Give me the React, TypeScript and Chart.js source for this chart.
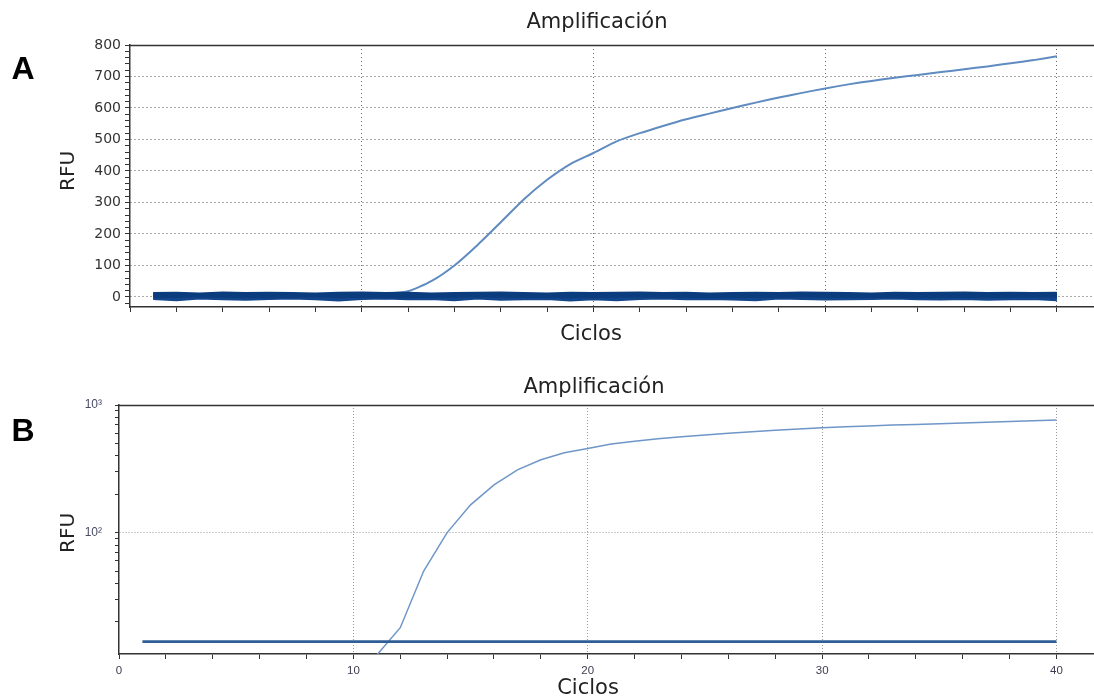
import React, { useEffect, useRef } from "react";
import { Chart, registerables } from "chart.js";

Chart.register(...registerables);

// ---------- data ----------
const cycles = [1, 2, 3, 4, 5, 6, 7, 8, 9, 10, 11, 12, 13, 14, 15, 16, 17, 18, 19, 20, 21, 22, 23, 24, 25, 26, 27, 28, 29, 30, 31, 32, 33, 34, 35, 36, 37, 38, 39, 40];

const amplification = [3, 4, 3, 5, 4, 3, 4, 5, 6, 7, 11, 18, 50, 100, 165, 237, 310, 372, 422, 457, 494, 520, 543, 564, 582, 600, 617, 633, 648, 662, 675, 686, 696, 705, 714, 723, 732, 742, 752, 764];

const baseline1 = [3, 2, 4, 3, 2, 1, 3, 4, 2, 3, 2, 1, 2, 3, 4, 3, 2, 3, 1, 2, 3, 4, 3, 2, 1, 2, 3, 2, 4, 3, 2, 3, 2, 1, 2, 3, 2, 3, 4, 3];
const baseline2 = [-4, -8, -3, -5, -7, -4, -3, -5, -9, -4, -3, -5, -4, -8, -3, -7, -5, -4, -9, -5, -8, -4, -3, -5, -4, -6, -8, -3, -4, -6, -5, -4, -3, -5, -6, -4, -7, -5, -4, -8];
const baseline3 = [10, 11, 9, 12, 10, 11, 10, 9, 11, 12, 10, 11, 9, 10, 11, 12, 10, 9, 11, 10, 11, 12, 10, 11, 9, 10, 11, 10, 12, 11, 10, 9, 11, 10, 11, 12, 10, 11, 10, 11];
const baseline4 = [0, -1, 1, 0, -3, 0, 1, -1, 0, 1, -2, 0, -1, 1, 0, -1, 0, 1, -2, 0, -1, 0, 1, 0, -1, -2, 0, 1, 0, -1, 0, 1, -1, 0, -2, 0, 1, 0, -1, 0];
const baseline5 = [6, 5, 7, 6, 4, 6, 7, 5, 6, 7, 5, 6, 4, 6, 7, 5, 6, 5, 7, 6, 5, 7, 6, 5, 6, 4, 6, 7, 5, 6, 7, 5, 6, 6, 5, 7, 6, 5, 6, 6];
const baselineLog = [14, 14, 14, 14, 14, 14, 14, 14, 14, 14, 14, 14, 14, 14, 14, 14, 14, 14, 14, 14, 14, 14, 14, 14, 14, 14, 14, 14, 14, 14, 14, 14, 14, 14, 14, 14, 14, 14, 14, 14];

const xTicks = [0, 2, 4, 6, 8, 10, 12, 14, 16, 18, 20, 22, 24, 26, 28, 30, 32, 34, 36, 38, 40];
const xLabelled = [0, 10, 20, 30, 40];
const yTicksA = [-20, 0, 20, 40, 60, 80, 100, 120, 140, 160, 180, 200, 220, 240, 260, 280, 300, 320, 340, 360, 380, 400, 420, 440, 460, 480, 500, 520, 540, 560, 580, 600, 620, 640, 660, 680, 700, 720, 740, 760, 780, 800];
const yLabelsA = [0, 100, 200, 300, 400, 500, 600, 700, 800];
const yTicksB = [20, 30, 40, 50, 60, 70, 80, 90, 100, 200, 300, 400, 500, 600, 700, 800, 900, 1000];
const yLabelsBValues = [100, 1000];
const yLabelsBText = ["10\u00b2", "10\u00b3"];

const pts = (vals: number[]) => cycles.map((c, i) => ({ x: c, y: vals[i] }));

type Txt = { text: string; x: number; y: number; font: string; color: string; rotate?: number };

const overlayPlugin = (id: string, items: Txt[]) => ({
  id,
  afterDraw(chart: any) {
    const ctx = chart.ctx as CanvasRenderingContext2D;
    const a = chart.chartArea;
    ctx.save();
    ctx.strokeStyle = "#333";
    ctx.lineWidth = 1.5;
    ctx.beginPath();
    ctx.moveTo(a.left, Math.round(a.top) + 0.5);
    ctx.lineTo(a.right, Math.round(a.top) + 0.5);
    ctx.stroke();
    ctx.restore();
    items.forEach((t) => {
      ctx.save();
      ctx.translate(t.x, t.y);
      if (t.rotate) ctx.rotate(t.rotate);
      ctx.font = t.font;
      ctx.fillStyle = t.color;
      ctx.textAlign = "center";
      ctx.textBaseline = "middle";
      ctx.fillText(t.text, 0, 0);
      ctx.restore();
    });
  },
});

const DEJA = "'DejaVu Sans', sans-serif";
const LIB = "'Liberation Sans', Arial, sans-serif";

const xScale = (labels: boolean, height: number, gridColor: string, dash: number[], tickFont: any) => ({
  type: "linear" as const,
  min: 0,
  max: 41.6,
  afterBuildTicks: (s: any) => {
    s.ticks = xTicks.map((v) => ({ value: v }));
  },
  afterFit: (s: any) => {
    s.height = height;
  },
  ticks: {
    autoSkip: false,
    maxRotation: 0,
    padding: 5,
    font: tickFont,
    color: "#3c3c50",
    callback: (v: any) => (labels && xLabelled.includes(Number(v)) ? String(v) : ""),
  },
  grid: {
    color: (c: any) => (c.tick && c.tick.value % 10 === 0 && c.tick.value !== 0 ? gridColor : "rgba(0,0,0,0)"),
    tickColor: "#333",
    tickLength: 5,
    lineWidth: 1,
  },
  border: { display: true, color: "#333", width: 1.5, dash },
});

function ChartA() {
  const ref = useRef<HTMLCanvasElement>(null);
  useEffect(() => {
    const base = { borderWidth: 3.4, pointRadius: 0, tension: 0, fill: false };
    const chart = new Chart(ref.current as HTMLCanvasElement, {
      type: "line",
      data: {
        datasets: [
          { ...base, data: pts(baseline1), borderColor: "#0b3c7d" },
          { ...base, data: pts(baseline2), borderColor: "#12458a" },
          { ...base, data: pts(baseline3), borderColor: "#0b3c7d" },
          { ...base, data: pts(baseline4), borderColor: "#164d92" },
          { ...base, data: pts(baseline5), borderColor: "#0e4084" },
          { borderWidth: 2, pointRadius: 0, tension: 0.2, fill: false, data: pts(amplification), borderColor: "#5f8bc0" },
        ],
      },
      options: {
        animation: false,
        responsive: false,
        layout: { padding: { top: 45, left: 0, right: 0, bottom: 0 } },
        plugins: { legend: { display: false }, title: { display: false }, tooltip: { enabled: false } },
        scales: {
          x: xScale(false, 38, "#666", [1, 3], { family: DEJA, size: 12 }),
          y: {
            type: "linear",
            min: -32,
            max: 800,
            afterBuildTicks: (s: any) => {
              s.ticks = yTicksA.map((v) => ({ value: v }));
            },
            afterFit: (s: any) => {
              s.width = 130;
            },
            ticks: {
              autoSkip: false,
              padding: 4,
              font: { family: DEJA, size: 14 },
              color: "#333",
              callback: (v: any) => (yLabelsA.includes(Number(v)) ? String(v) : ""),
            },
            grid: {
              color: (c: any) =>
                c.tick && yLabelsA.includes(c.tick.value) && c.tick.value !== 800 ? "#555" : "rgba(0,0,0,0)",
              tickColor: "#333",
              tickLength: 5,
              lineWidth: 1,
            },
            border: { display: true, color: "#333", width: 1.5, dash: [1, 3] },
          },
        },
      } as any,
      plugins: [
        overlayPlugin("overlayA", [
          { text: "A", x: 23, y: 70, font: `bold 32px ${LIB}`, color: "#000" },
          { text: "Amplificación", x: 597, y: 23, font: `21px ${DEJA}`, color: "#222" },
          { text: "RFU", x: 69, y: 171, font: `20px ${DEJA}`, color: "#222", rotate: -Math.PI / 2 },
          { text: "Ciclos", x: 591, y: 335, font: `21px ${DEJA}`, color: "#222" },
        ]),
      ],
    });
    return () => chart.destroy();
  }, []);
  return <canvas ref={ref} width={1094} height={345} style={{ position: "absolute", left: 0, top: 0 }} />;
}

function ChartB() {
  const ref = useRef<HTMLCanvasElement>(null);
  useEffect(() => {
    const chart = new Chart(ref.current as HTMLCanvasElement, {
      type: "line",
      data: {
        datasets: [
          { borderWidth: 2.6, pointRadius: 0, tension: 0, fill: false, data: pts(baselineLog), borderColor: "#2f5e96" },
          { borderWidth: 1.5, pointRadius: 0, tension: 0, fill: false, data: pts(amplification), borderColor: "#6f96c8" },
        ],
      },
      options: {
        animation: false,
        responsive: false,
        layout: { padding: { top: 60, left: 0, right: 0, bottom: 0 } },
        plugins: { legend: { display: false }, title: { display: false }, tooltip: { enabled: false } },
        scales: {
          x: xScale(true, 45, "#999", [1, 2], { family: LIB, size: 11.5 }),
          y: {
            type: "logarithmic",
            min: 11.2,
            max: 1000,
            afterBuildTicks: (s: any) => {
              s.ticks = yTicksB.map((v) => ({ value: v }));
            },
            afterFit: (s: any) => {
              s.width = 119;
            },
            ticks: {
              autoSkip: false,
              padding: 13,
              font: { family: LIB, size: 12 },
              color: "#4a4a66",
              callback: (v: any) => {
                const i = yLabelsBValues.indexOf(Number(v));
                return i >= 0 ? yLabelsBText[i] : "";
              },
            },
            grid: {
              color: (c: any) => (c.tick && c.tick.value === 100 ? "#999" : "rgba(0,0,0,0)"),
              tickColor: "#333",
              tickLength: 4,
              lineWidth: 1,
            },
            border: { display: true, color: "#333", width: 1.5, dash: [1, 2] },
          },
        },
      } as any,
      plugins: [
        overlayPlugin("overlayB", [
          { text: "B", x: 23, y: 87, font: `bold 32px ${LIB}`, color: "#000" },
          { text: "Amplificación", x: 594, y: 43, font: `21px ${DEJA}`, color: "#222" },
          { text: "RFU", x: 69, y: 188, font: `20px ${DEJA}`, color: "#222", rotate: -Math.PI / 2 },
          { text: "Ciclos", x: 588, y: 344, font: `21px ${DEJA}`, color: "#222" },
        ]),
      ],
    });
    return () => chart.destroy();
  }, []);
  return <canvas ref={ref} width={1094} height={354} style={{ position: "absolute", left: 0, top: 345 }} />;
}

export default function App() {
  return (
    <div style={{ position: "absolute", left: 0, top: 0, width: 1094, height: 699, background: "#fff", overflow: "hidden" }}>
      <ChartA />
      <ChartB />
    </div>
  );
}
